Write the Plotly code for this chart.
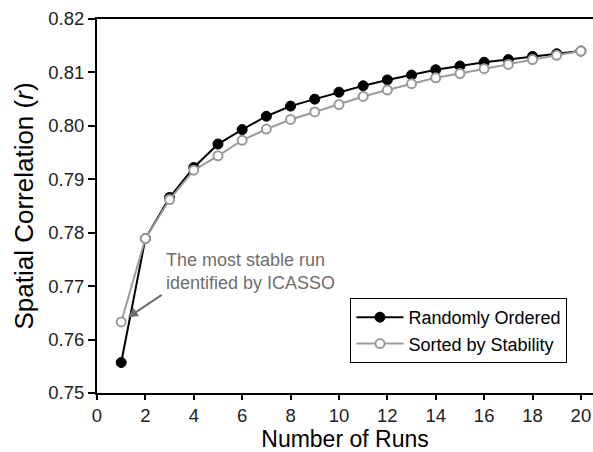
import plotly.graph_objects as go

runs = list(range(1, 21))
randomly_ordered = [0.7557, 0.7789, 0.7866, 0.7922, 0.7966, 0.7993, 0.8018, 0.8037, 0.8050, 0.8063,
                    0.8075, 0.8086, 0.8095, 0.8105, 0.8112, 0.8119, 0.8124, 0.8130, 0.8135, 0.8140]
sorted_by_stability = [0.7633, 0.7789, 0.7862, 0.7917, 0.7944, 0.7973, 0.7994, 0.8012, 0.8026, 0.8040,
                       0.8055, 0.8067, 0.8079, 0.8090, 0.8098, 0.8107, 0.8115, 0.8124, 0.8132, 0.8140]
x_ticks = list(range(0, 21, 2))
y_ticks = [0.75, 0.76, 0.77, 0.78, 0.79, 0.80, 0.81, 0.82]

FONT = "Liberation Sans, Arial, Helvetica, sans-serif"

fig = go.Figure()
fig.add_trace(go.Scatter(
    x=runs, y=randomly_ordered, mode="lines+markers", name="Randomly Ordered",
    line=dict(color="black", width=2),
    marker=dict(symbol="circle", size=10, color="black", line=dict(color="black", width=1)),
))
fig.add_trace(go.Scatter(
    x=runs, y=sorted_by_stability, mode="lines+markers", name="Sorted by Stability",
    line=dict(color="#9a9a9a", width=2),
    marker=dict(symbol="circle", size=9, color="white", line=dict(color="#9a9a9a", width=2)),
))

fig.add_annotation(
    x=1, y=sorted_by_stability[0], xref="x", yref="y", text="",
    showarrow=True, arrowhead=2, arrowsize=1, arrowwidth=2, arrowcolor="#6e6e6e",
    ax=42, ay=-28, standoff=8,
)
fig.add_annotation(
    x=2.78, y=0.7728, xref="x", yref="y",
    text="The most stable run<br>identified by ICASSO",
    showarrow=False, xanchor="left", yanchor="middle", align="left",
    font=dict(family=FONT, size=18, color="#6e6e6e"),
)

fig.update_layout(
    width=593, height=452,
    margin=dict(l=97, r=0, t=19, b=59, autoexpand=False),
    paper_bgcolor="white", plot_bgcolor="white",
    font=dict(family=FONT, color="#222222"),
    showlegend=True,
    legend=dict(
        x=0.511, y=0.254, xanchor="left", yanchor="top",
        bgcolor="white", bordercolor="black", borderwidth=1,
        font=dict(family=FONT, size=18, color="black"),
        tracegroupgap=0, itemwidth=47,
    ),
    xaxis=dict(
        range=[0, 20.5], tickvals=x_ticks, ticktext=[str(v) for v in x_ticks],
        showgrid=False, zeroline=False, showline=True, linecolor="black", linewidth=2,
        mirror=True, ticks="outside", ticklen=5, tickwidth=1.5, tickcolor="black",
        tickfont=dict(family=FONT, size=18.5, color="#222222"), automargin=False,
        title=dict(text="Number of Runs", font=dict(family=FONT, size=23, color="black"), standoff=12),
    ),
    yaxis=dict(
        range=[0.75, 0.82], tickvals=y_ticks, ticktext=[f"{v:.2f}" for v in y_ticks],
        showgrid=False, zeroline=False, showline=True, linecolor="black", linewidth=2,
        ticks="outside", ticklen=7, tickwidth=1.5, tickcolor="black",
        tickfont=dict(family=FONT, size=18.5, color="#222222"), automargin=False,
        title=dict(text="Spatial Correlation (<i>r</i>)", font=dict(family=FONT, size=26, color="black"), standoff=7),
    ),
)

fig.write_html("out.html", config={"displayModeBar": False},
               post_script="document.body.style.margin='0px';")
